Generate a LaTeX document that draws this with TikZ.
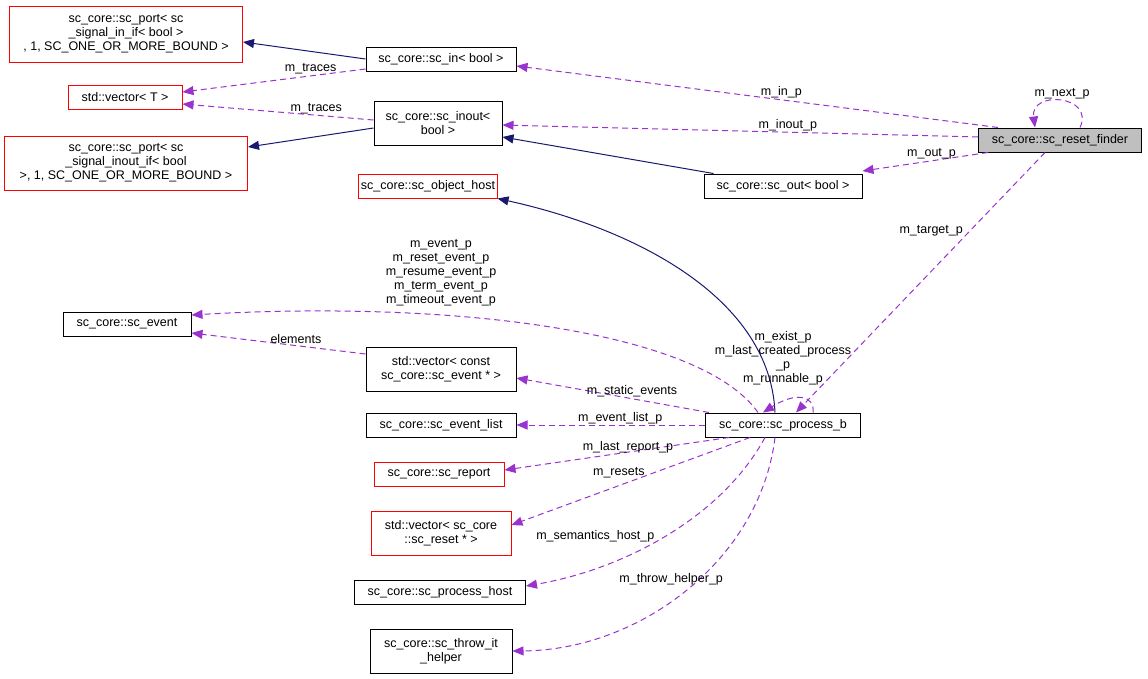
\documentclass[tikz,border=0pt]{standalone}
\usepackage{fontspec}
\setmainfont{Liberation Sans}
\usetikzlibrary{arrows.meta,calc}
\definecolor{pur}{HTML}{9A32CD}
\definecolor{nav}{HTML}{191970}
\begin{document}
\begin{tikzpicture}[x=1pt,y=-1pt,line width=1pt,
  box/.style={draw=black,fill=white,font=\fontsize{12.5}{14}\selectfont,align=center,inner sep=2pt,minimum height=24pt},
  rbox/.style={box,draw=red},
  gbox/.style={box,fill=black!25},
  inh/.style={draw=nav,-{Triangle[length=11pt,width=9pt,fill=nav]}},
  use/.style={draw=pur,dash pattern=on 6pt off 4pt,-{Triangle[length=11pt,width=9pt,fill=pur]}},
  lab/.style={font=\fontsize{12.5}{14}\selectfont,align=center,inner sep=1pt}]
\useasboundingbox (0,0) rectangle (1148,678);
\node[rbox,minimum width=233pt,minimum height=56pt] (portin) at (126,34) {sc\_core::sc\_port< sc\\\_signal\_in\_if< bool >\\, 1, SC\_ONE\_OR\_MORE\_BOUND >};
\node[rbox,minimum width=114pt] (vecT) at (125,97) {std::vector< T >};
\node[rbox,minimum width=243pt,minimum height=54pt] (portinout) at (126,163) {sc\_core::sc\_port< sc\\\_signal\_inout\_if< bool\\ >, 1, SC\_ONE\_OR\_MORE\_BOUND >};
\node[box,minimum width=150pt] (scin) at (441,59) {sc\_core::sc\_in< bool >};
\node[box,minimum width=128pt,minimum height=44pt] (scinout) at (438,123) {sc\_core::sc\_inout<\\bool >};
\node[gbox,minimum width=163pt] (finder) at (1060,140) {sc\_core::sc\_reset\_finder};
\node[box,minimum width=158pt] (scout) at (783,186) {sc\_core::sc\_out< bool >};
\node[rbox,minimum width=136pt] (objhost) at (428,186) {sc\_core::sc\_object\_host};
\node[box,minimum width=128pt] (event) at (127,324) {sc\_core::sc\_event};
\node[box,minimum width=150pt,minimum height=44pt] (vecconst) at (441,369) {std::vector< const\\ sc\_core::sc\_event * >};
\node[box,minimum width=150pt] (eventlist) at (441,425) {sc\_core::sc\_event\_list};
\node[box,minimum width=155pt] (procb) at (783,425) {sc\_core::sc\_process\_b};
\node[rbox,minimum width=130pt] (report) at (439,474) {sc\_core::sc\_report};
\node[rbox,minimum width=140pt,minimum height=44pt] (vecreset) at (441,533) {std::vector< sc\_core\\::sc\_reset * >};
\node[box,minimum width=171pt] (prochost) at (440,592) {sc\_core::sc\_process\_host};
\node[box,minimum width=142pt,minimum height=44pt] (throw) at (441,651) {sc\_core::sc\_throw\_it\\\_helper};
% inheritance
\draw[inh] (scin.west) -- (portin.east |- 0,42);
\draw[inh] (scinout.west) ++(0,5) -- (portinout.east |- 0,147);
\draw[inh] (scout.north west) ++(10,0) coordinate (so) -- (scinout.south east |- 0,137);
\draw[inh] (procb.north) ++(-8,0) coordinate (pbn) .. controls (770,300) and (640,230) .. (objhost.south east);
% usage
\draw[use] (scin.west) ++(0,10) -- (vecT.east |- 0,92) node[lab,pos=0.3,above]{m\_traces};
\draw[use] (scinout.west) ++(0,-3) -- (vecT.east |- 0,104) node[lab,pos=0.3,above]{m\_traces};
\draw[use] (finder.north west) ++(20,0) coordinate (f1) -- (scin.east |- 0,66) node[lab,pos=0.45,above]{m\_in\_p};
\draw[use] (finder.west) ++(0,-3) coordinate (f2) -- (scinout.east |- 0,125) node[lab,pos=0.4,above]{m\_inout\_p};
\draw[use] (finder.south west) ++(10,0) coordinate (f3) -- (scout.north east |- 0,171) node[lab,pos=0.45,above]{m\_out\_p};
\draw[use] (finder.north) ++(20,0) coordinate (f4) .. controls (1095,95) and (1030,90) .. ($(finder.north)+(-25,0)$) ;
\node[lab] (nextlab) at (1062,94) {m\_next\_p};
\draw[use] (finder.south) ++(-15,0) coordinate (f5) -- ($(procb.north)+(13,0)$) node[lab,pos=0.3,left=6pt]{m\_target\_p};
\draw[use] ($(procb.north)+(-25,0)$) .. controls (700,330) and (450,300) .. (event.east |- 0,315);
\node[lab] (evlab) at (441,273) {m\_event\_p\\m\_reset\_event\_p\\m\_resume\_event\_p\\m\_term\_event\_p\\m\_timeout\_event\_p};
\draw[use] (vecconst.west) ++(0,-15) -- (event.east |- 0,333) node[lab,pos=0.4,above]{elements};
\draw[use] (procb.north west) ++(4,0) -- (vecconst.east |- 0,378) node[lab,pos=0.4,above]{m\_static\_events};
\draw[use] (procb.west) -- (eventlist.east) node[lab,pos=0.45,above=-1pt]{m\_event\_list\_p};
\draw[use] (procb.south west) ++(24,0) -- (report.east |- 0,470) node[lab,pos=0.45,above=-2pt]{m\_last\_report\_p};
\draw[use] (procb.south) ++(-33,0) -- (vecreset.east |- 0,525) node[lab,pos=0.55,above=6pt]{m\_resets};
\draw[use] (procb.south) ++(-18,0) .. controls (720,520) and (620,570) .. (prochost.east |- 0,586) node[lab,pos=0.5,left=8pt]{m\_semantics\_host\_p};
\draw[use] (procb.south) ++(-8,0) .. controls (760,560) and (640,650) .. (throw.east |- 0,651) node[lab,pos=0.55,above=14pt]{m\_throw\_helper\_p};
\draw[use] (procb.north) ++(30,0) .. controls (815,395) and (795,392) .. ($(procb.north)+(-20,0)$);
\node[lab] (rlab) at (783,358) {m\_exist\_p\\m\_last\_created\_process\\\_p\\m\_runnable\_p};
\end{tikzpicture}
\end{document}
